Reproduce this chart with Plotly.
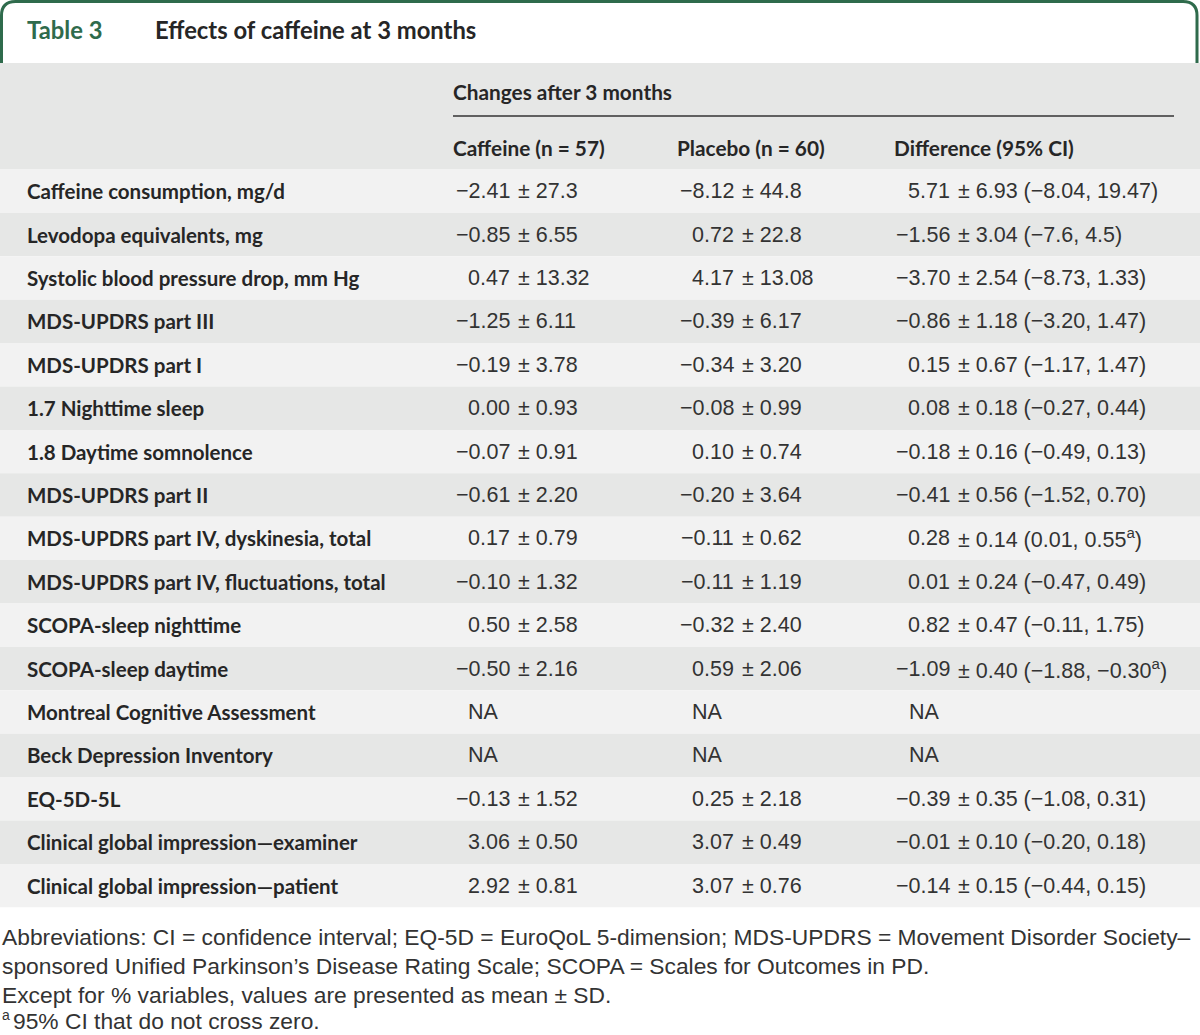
import plotly.graph_objects as go

# ---------------- data ----------------
labels = [
    "Caffeine consumption, mg/d",
    "Levodopa equivalents, mg",
    "Systolic blood pressure drop, mm Hg",
    "MDS-UPDRS part III",
    "MDS-UPDRS part I",
    "1.7 Nighttime sleep",
    "1.8 Daytime somnolence",
    "MDS-UPDRS part II",
    "MDS-UPDRS part IV, dyskinesia, total",
    "MDS-UPDRS part IV, fluctuations, total",
    "SCOPA-sleep nighttime",
    "SCOPA-sleep daytime",
    "Montreal Cognitive Assessment",
    "Beck Depression Inventory",
    "EQ-5D-5L",
    "Clinical global impression\u2014examiner",
    "Clinical global impression\u2014patient",
]
caffeine_mean = ["−2.41", "−0.85", "0.47", "−1.25", "−0.19", "0.00", "−0.07", "−0.61", "0.17",
                 "−0.10", "0.50", "−0.50", None, None, "−0.13", "3.06", "2.92"]
caffeine_sd = ["27.3", "6.55", "13.32", "6.11", "3.78", "0.93", "0.91", "2.20", "0.79",
               "1.32", "2.58", "2.16", None, None, "1.52", "0.50", "0.81"]
placebo_mean = ["−8.12", "0.72", "4.17", "−0.39", "−0.34", "−0.08", "0.10", "−0.20", "−0.11",
                "−0.11", "−0.32", "0.59", None, None, "0.25", "3.07", "3.07"]
placebo_sd = ["44.8", "22.8", "13.08", "6.17", "3.20", "0.99", "0.74", "3.64", "0.62",
              "1.19", "2.40", "2.06", None, None, "2.18", "0.49", "0.76"]
diff_mean = ["5.71", "−1.56", "−3.70", "−0.86", "0.15", "0.08", "−0.18", "−0.41", "0.28",
             "0.01", "0.82", "−1.09", None, None, "−0.39", "−0.01", "−0.14"]
diff_sd = ["6.93", "3.04", "2.54", "1.18", "0.67", "0.18", "0.16", "0.56", "0.14",
           "0.24", "0.47", "0.40", None, None, "0.35", "0.10", "0.15"]
ci_low = ["−8.04", "−7.6", "−8.73", "−3.20", "−1.17", "−0.27", "−0.49", "−1.52", "0.01",
          "−0.47", "−0.11", "−1.88", None, None, "−1.08", "−0.20", "−0.44"]
ci_high = ["19.47", "4.5", "1.33", "1.47", "1.47", "0.44", "0.13", "0.70", "0.55",
           "0.49", "1.75", "−0.30", None, None, "0.31", "0.18", "0.15"]
ci_sig = [False, False, False, False, False, False, False, False, True,
          False, False, True, False, False, False, False, False]

column_headers = ["Caffeine (n = 57)", "Placebo (n = 60)", "Difference (95% CI)"]
group_header = "Changes after 3 months"
table_label = "Table 3"
table_title = "Effects of caffeine at 3 months"
footnotes = [
    "Abbreviations: CI = confidence interval; EQ-5D = EuroQoL 5-dimension; MDS-UPDRS = Movement Disorder Society–",
    "sponsored Unified Parkinson’s Disease Rating Scale; SCOPA = Scales for Outcomes in PD.",
    "Except for % variables, values are presented as mean ± SD.",
]
footnote_mark = "a"
footnote_sig = "95% CI that do not cross zero."

# ---------------- styling / layout ----------------
W, H = 1200, 1035
GREEN = "#2f6b4c"
TXT = "#262626"
BAND_DARK = "#e6e7e6"
BAND_LIGHT = "#f2f2f2"
LABEL_FONT = dict(family="Lato", size=20.5, color=TXT, weight=700)
HEAD_FONT = dict(family="Lato", size=20.8, color=TXT, weight=700)
DATA_FONT = dict(family="Liberation Sans", size=21.5, color="#333333")
FOOT_FONT = dict(family="Liberation Sans", size=22.8, color="#333333")
MARK_FONT = dict(family="Liberation Sans", size=14, color="#333333")

row_top0 = 169.5
row_h = 43.4
n = len(labels)

fig = go.Figure()
shapes = []
annotations = []

# green tab border with rounded top corners
r = 14
path = (f"M 1.5 63 L 1.5 {1.5 + r} Q 1.5 1.5 {1.5 + r} 1.5 "
        f"L {W - 3 - r} 1.5 Q {W - 3} 1.5 {W - 3} {1.5 + r} L {W - 3} 63")
shapes.append(dict(type="path", path=path, line=dict(color=GREEN, width=3), xref="x", yref="y"))

# header band
shapes.append(dict(type="rect", x0=0, x1=W, y0=63, y1=row_top0, fillcolor=BAND_DARK,
                   line_width=0, layer="below"))
# rows
for i in range(n):
    y0 = row_top0 + i * row_h
    shapes.append(dict(type="rect", x0=0, x1=W, y0=y0, y1=y0 + row_h,
                       fillcolor=BAND_LIGHT if i % 2 == 0 else BAND_DARK,
                       line_width=0, layer="below"))
# group header rule
shapes.append(dict(type="line", x0=453, x1=1174, y0=116, y1=116, line=dict(color="#333333", width=1.3)))


def ann(x, y, text, font, anchor="left"):
    annotations.append(dict(x=x, y=y, xref="x", yref="y", text=text, showarrow=False,
                            xanchor=anchor, yanchor="middle", font=font))


# title
ann(25, 30, f"<b>{table_label}</b>", dict(family="Lato", size=23.8, color=GREEN))
ann(153, 30, f"<b>{table_title}</b>", dict(family="Lato", size=23.8, color=TXT))

ann(451, 91, group_header, HEAD_FONT)
col_x = [451, 675, 892]
for x, t in zip(col_x, column_headers):
    ann(x, 147, t, HEAD_FONT)

# columns: right edge of mean, start of "±" part, NA position
mean_right = [512, 736, 952]
pm_left = [516, 740, 956]
na_x = [466, 690, 907]

for i in range(n):
    yc = row_top0 + i * row_h + row_h / 2
    ann(25, yc, labels[i], LABEL_FONT)
    cols = [
        (caffeine_mean[i], caffeine_sd[i], None),
        (placebo_mean[i], placebo_sd[i], None),
        (diff_mean[i], diff_sd[i], (ci_low[i], ci_high[i])),
    ]
    for c, (m, s, ci) in enumerate(cols):
        if m is None:
            ann(na_x[c], yc, "NA", DATA_FONT)
            continue
        ann(mean_right[c], yc, m, DATA_FONT, anchor="right")
        rest = f"± {s}"
        if ci is not None:
            sup = "<sup>a</sup>" if ci_sig[i] else ""
            rest += f" ({ci[0]}, {ci[1]}{sup})"
        ann(pm_left[c], yc, rest, DATA_FONT)

# footnotes
foot_y = [937, 966, 995]
for y, t in zip(foot_y, footnotes):
    ann(0, y, t, FOOT_FONT)
ann(0, 1015, footnote_mark, MARK_FONT)
ann(11, 1021, footnote_sig, FOOT_FONT)

fig.update_layout(
    width=W, height=H, margin=dict(l=0, r=0, t=0, b=0),
    paper_bgcolor="white", plot_bgcolor="white",
    xaxis=dict(range=[0, W], visible=False, fixedrange=True),
    yaxis=dict(range=[H, 0], visible=False, fixedrange=True),
    shapes=shapes, annotations=annotations, showlegend=False,
)
fig.write_html("out.html", config=dict(displayModeBar=False),
               post_script="document.body.style.margin='0';document.body.style.overflow='hidden';")
